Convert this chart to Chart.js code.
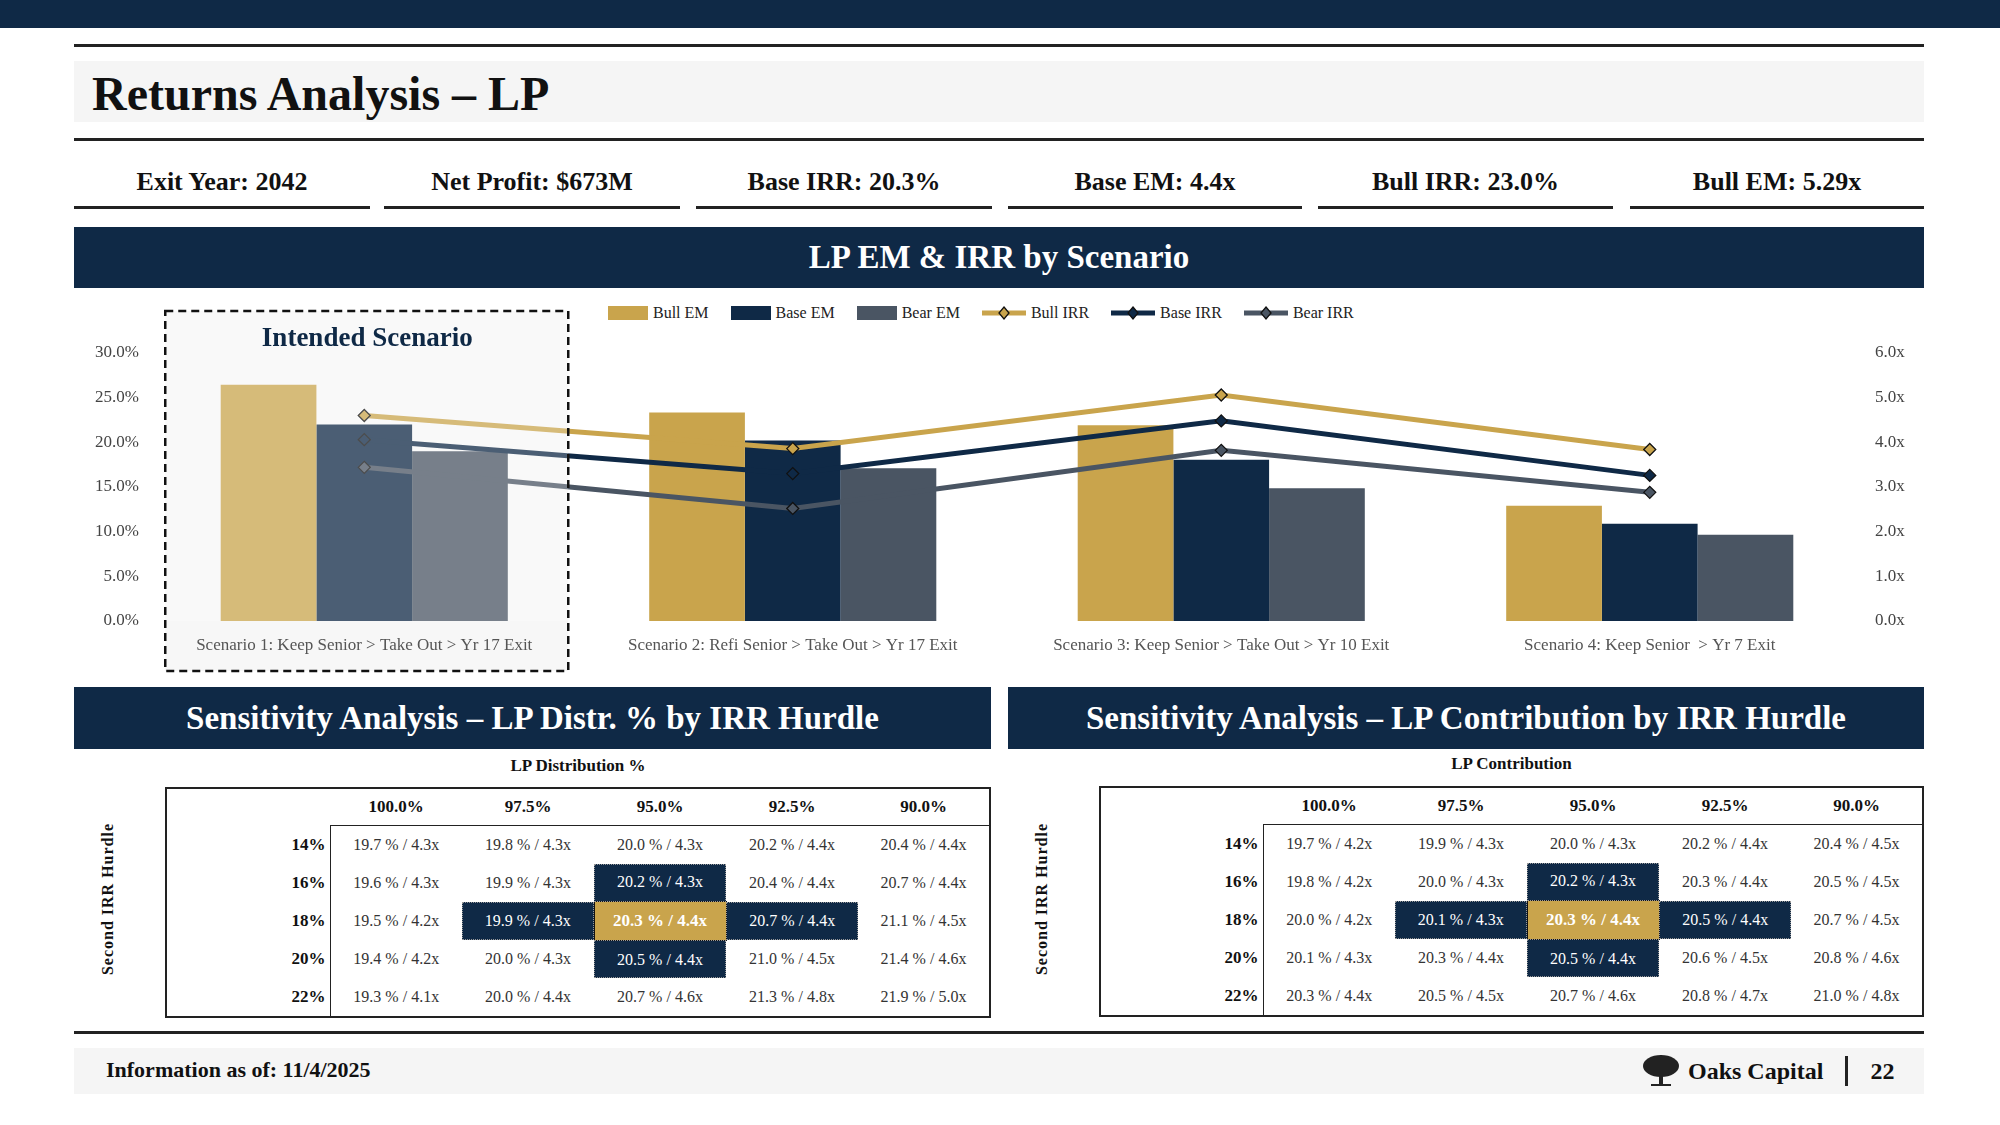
<!DOCTYPE html>
<html>
<head>
<meta charset="utf-8">
<script src="https://cdn.jsdelivr.net/npm/chart.js@4.4.1/dist/chart.umd.min.js"></script>
<style>
  body{margin:0;width:2000px;height:1125px;background:#fff;font-family:"Liberation Serif","DejaVu Serif",serif;color:#111;position:relative;overflow:hidden}
  .abs{position:absolute}
  .hdr{background:#0f2946;color:#fff;font-weight:bold;font-size:33px;display:flex;align-items:center;justify-content:center}
  .kpi{position:absolute;top:158px;height:48px;border-bottom:3px solid #222;font-weight:bold;font-size:26px;display:flex;align-items:center;justify-content:center}
  table{border-collapse:collapse;font-size:16px;table-layout:fixed}
  td{height:37.6px;text-align:center;color:#333;padding:0;white-space:nowrap}
  td.rl{text-align:right;font-weight:bold;color:#111;padding-right:4px;font-size:17px}
  th{height:36px;font-size:17px;padding:0}
  td.nv{background:#0f2946;color:#fff;outline:1px dotted #999;outline-offset:-1px}
  td.gd{background:#c9a44c;color:#fff;font-weight:bold;border:1.5px solid #111;font-size:17px}
  .vert{position:absolute;transform:rotate(-90deg);font-weight:bold;font-size:16px;letter-spacing:1px;white-space:nowrap}
  .leg{position:absolute;top:304px;left:608px;display:flex;gap:22px;font-size:16px;color:#222;align-items:center}
  .leg span{display:flex;align-items:center;gap:5px}
</style>
</head>
<body>
<div class="abs" style="left:0;top:0;width:2000px;height:28px;background:#0f2946"></div>
<div class="abs" style="left:74px;top:44px;width:1850px;height:3px;background:#222"></div>
<div class="abs" style="left:74px;top:61px;width:1850px;height:61px;background:#f5f5f5"></div>
<div class="abs" style="left:92px;top:66px;font-size:48px;font-weight:bold">Returns Analysis – LP</div>
<div class="abs" style="left:74px;top:138px;width:1850px;height:3px;background:#222"></div>

<div id="kpis"></div>

<div class="abs hdr" style="left:74px;top:227px;width:1850px;height:61px">LP EM &amp; IRR by Scenario</div>

<div class="leg" id="legend"></div>
<div class="abs" style="left:74px;top:296px;width:1850px;height:385px"><canvas id="scenarioChart"></canvas></div>

<div class="abs hdr" style="left:74px;top:687px;width:917px;height:62px">Sensitivity Analysis – LP Distr. % by IRR Hurdle</div>
<div class="abs hdr" style="left:1008px;top:687px;width:916px;height:62px">Sensitivity Analysis – LP Contribution by IRR Hurdle</div>

<div class="abs" style="left:165px;top:756px;width:826px;text-align:center;font-weight:bold;font-size:17px">LP Distribution %</div>
<div class="abs" style="left:1099px;top:754px;width:825px;text-align:center;font-weight:bold;font-size:17px">LP Contribution</div>
<div class="vert" style="left:32px;top:890px">Second IRR Hurdle</div>
<div class="vert" style="left:966px;top:890px">Second IRR Hurdle</div>
<div class="abs" id="tblL" style="left:165px;top:787px"></div>
<div class="abs" id="tblR" style="left:1099px;top:786px"></div>

<div class="abs" style="left:74px;top:1031px;width:1850px;height:3px;background:#222"></div>
<div class="abs" style="left:74px;top:1048px;width:1850px;height:46px;background:#f5f5f5"></div>
<div class="abs" style="left:106px;top:1057px;font-size:22px;font-weight:bold">Information as of: 11/4/2025</div>
<div class="abs" style="left:1642px;top:1054px;display:flex;align-items:center;font-size:24px;font-weight:bold">
  <svg width="38" height="34" viewBox="0 0 38 34"><ellipse cx="19" cy="12" rx="18" ry="11" fill="#222"/><rect x="17" y="16" width="4" height="15" fill="#222"/><rect x="9" y="30" width="20" height="2" fill="#222"/></svg>
  <span style="margin-left:8px">Oaks Capital</span>
  <span style="display:inline-block;width:3px;height:30px;background:#222;margin:0 22px 0 22px"></span>
  <span>22</span>
</div>

<script>
// ---------- data ----------
const scenarios = [
  "Scenario 1: Keep Senior > Take Out > Yr 17 Exit",
  "Scenario 2: Refi Senior > Take Out > Yr 17 Exit",
  "Scenario 3: Keep Senior > Take Out > Yr 10 Exit",
  "Scenario 4: Keep Senior  > Yr 7 Exit"
];
const bullEM = [5.29, 4.67, 4.38, 2.58];
const baseEM = [4.4, 4.04, 3.61, 2.18];
const bearEM = [3.8, 3.42, 2.97, 1.93];
const bullIRR = [23.0, 19.3, 25.3, 19.2];
const baseIRR = [20.3, 16.5, 22.4, 16.3];
const bearIRR = [17.2, 12.6, 19.1, 14.4];

const kpiLabels = ["Exit Year: 2042","Net Profit: $673M","Base IRR: 20.3%","Base EM: 4.4x","Bull IRR: 23.0%","Bull EM: 5.29x"];

const hurdleCols = ["100.0%","97.5%","95.0%","92.5%","90.0%"];
const hurdleRows = ["14%","16%","18%","20%","22%"];
const distGrid = [
  ["19.7 % / 4.3x","19.8 % / 4.3x","20.0 % / 4.3x","20.2 % / 4.4x","20.4 % / 4.4x"],
  ["19.6 % / 4.3x","19.9 % / 4.3x","20.2 % / 4.3x","20.4 % / 4.4x","20.7 % / 4.4x"],
  ["19.5 % / 4.2x","19.9 % / 4.3x","20.3 % / 4.4x","20.7 % / 4.4x","21.1 % / 4.5x"],
  ["19.4 % / 4.2x","20.0 % / 4.3x","20.5 % / 4.4x","21.0 % / 4.5x","21.4 % / 4.6x"],
  ["19.3 % / 4.1x","20.0 % / 4.4x","20.7 % / 4.6x","21.3 % / 4.8x","21.9 % / 5.0x"]
];
const contribGrid = [
  ["19.7 % / 4.2x","19.9 % / 4.3x","20.0 % / 4.3x","20.2 % / 4.4x","20.4 % / 4.5x"],
  ["19.8 % / 4.2x","20.0 % / 4.3x","20.2 % / 4.3x","20.3 % / 4.4x","20.5 % / 4.5x"],
  ["20.0 % / 4.2x","20.1 % / 4.3x","20.3 % / 4.4x","20.5 % / 4.4x","20.7 % / 4.5x"],
  ["20.1 % / 4.3x","20.3 % / 4.4x","20.5 % / 4.4x","20.6 % / 4.5x","20.8 % / 4.6x"],
  ["20.3 % / 4.4x","20.5 % / 4.5x","20.7 % / 4.6x","20.8 % / 4.7x","21.0 % / 4.8x"]
];

const GOLD = "#c9a44c", NAVY = "#0f2946", SLATE = "#4a5563";

// ---------- KPI row ----------
const kpiX = [74,384,696,1008,1318,1630];
const kpiW = [296,296,296,294,295,294];
document.getElementById("kpis").innerHTML = kpiLabels.map((t,i)=>
  `<div class="kpi" style="left:${kpiX[i]}px;width:${kpiW[i]}px">${t}</div>`).join("");

// ---------- legend ----------
function legBox(c){return `<svg width="40" height="14"><rect width="40" height="14" fill="${c}"/></svg>`;}
function legLine(c){return `<svg width="44" height="16"><line x1="0" y1="8" x2="44" y2="8" stroke="${c}" stroke-width="5"/><polygon points="22,2 27,8 22,14 17,8" fill="${c}" stroke="#111" stroke-width="1.3"/></svg>`;}
document.getElementById("legend").innerHTML =
  `<span>${legBox(GOLD)}Bull EM</span><span>${legBox(NAVY)}Base EM</span><span>${legBox(SLATE)}Bear EM</span>`+
  `<span>${legLine(GOLD)}Bull IRR</span><span>${legLine(NAVY)}Base IRR</span><span>${legLine(SLATE)}Bear IRR</span>`;

// ---------- intended scenario box ----------
const intendedBox = {
  id:"intendedBox",
  beforeDraw(chart){
    const ctx = chart.ctx, x0 = chart.scales.x.getPixelForValue(0);
    ctx.save();
    ctx.fillStyle = "#f7f7f7";
    ctx.fillRect(x0-199, 15, 403, 360);
    ctx.restore();
  },
  afterDatasetsDraw(chart){
    const ctx = chart.ctx, x0 = chart.scales.x.getPixelForValue(0);
    ctx.save();
    ctx.fillStyle = "rgba(255,255,255,0.25)";
    ctx.fillRect(x0-199, 15, 403, chart.chartArea.bottom - 15);
    ctx.setLineDash([8,5]);
    ctx.lineWidth = 2.5;
    ctx.strokeStyle = "#111";
    ctx.strokeRect(x0-199, 15, 403, 360);
    ctx.fillStyle = NAVY;
    ctx.font = "bold 27px 'Liberation Serif', serif";
    ctx.textAlign = "center";
    ctx.textBaseline = "middle";
    ctx.fillText("Intended Scenario", x0+3, 43);
    ctx.restore();
  }
};

function lineSet(label, data, color){
  return {type:"line", label, data, yAxisID:"yIRR", borderColor:color, backgroundColor:color,
    borderWidth:5, pointStyle:"rectRot", pointRadius:6, pointBorderColor:"#111",
    pointBorderWidth:1.3, pointBackgroundColor:color, tension:0, order:0};
}
function barSet(label, data, color){
  return {type:"bar", label, data, yAxisID:"yEM", backgroundColor:color,
    barPercentage:1, categoryPercentage:0.67, order:1};
}

new Chart(document.getElementById("scenarioChart"), {
  data:{
    labels:scenarios,
    datasets:[
      barSet("Bull EM", bullEM, GOLD),
      barSet("Base EM", baseEM, NAVY),
      barSet("Bear EM", bearEM, SLATE),
      lineSet("Bull IRR", bullIRR, GOLD),
      lineSet("Base IRR", baseIRR, NAVY),
      lineSet("Bear IRR", bearIRR, SLATE)
    ]
  },
  options:{
    responsive:true, maintainAspectRatio:false, animation:false,
    layout:{padding:{top:57}},
    plugins:{legend:{display:false}, tooltip:{enabled:false}},
    scales:{
      x:{grid:{display:false}, border:{display:false},
        ticks:{color:"#555", font:{family:"Liberation Serif", size:17}, maxRotation:0, autoSkip:false, padding:6},
        afterFit(s){s.height = 60;}},
      yIRR:{position:"left", min:0, max:30, grid:{display:false}, border:{display:false},
        ticks:{stepSize:5, color:"#444", font:{family:"Liberation Serif", size:17}, callback:v=>v.toFixed(1)+"%"},
        afterFit(s){s.width = 76;}},
      yEM:{position:"right", min:0, max:6, grid:{display:false}, border:{display:false},
        ticks:{stepSize:1, color:"#444", font:{family:"Liberation Serif", size:17}, callback:v=>v.toFixed(1)+"x"},
        afterFit(s){s.width = 60;}}
    }
  },
  plugins:[intendedBox]
});

// ---------- sensitivity tables ----------
function buildTable(grid, labelW){
  const hl = {"1,2":"nv","2,1":"nv","2,2":"gd","2,3":"nv","3,2":"nv"};
  let h = `<table style="border:2px solid #222;width:${labelW+5*132}px"><colgroup><col style="width:${labelW}px">` +
    hurdleCols.map(()=>`<col style="width:132px">`).join("") + `</colgroup><tr><th></th>` +
    hurdleCols.map(c=>`<th>${c}</th>`).join("") + "</tr>";
  grid.forEach((row,r)=>{
    h += `<tr><td class="rl">${hurdleRows[r]}</td>` +
      row.map((v,c)=>{
        const cls = hl[r+","+c] || "";
        const bt = r===0 ? "border-top:1.5px solid #222;" : "";
        const bl = c===0 ? "border-left:1.5px solid #222;" : "";
        return `<td class="${cls}" style="${bt}${bl}">${v}</td>`;
      }).join("") + "</tr>";
  });
  return h + "</table>";
}
document.getElementById("tblL").innerHTML = buildTable(distGrid, 164);
document.getElementById("tblR").innerHTML = buildTable(contribGrid, 163);
</script>
</body>
</html>
